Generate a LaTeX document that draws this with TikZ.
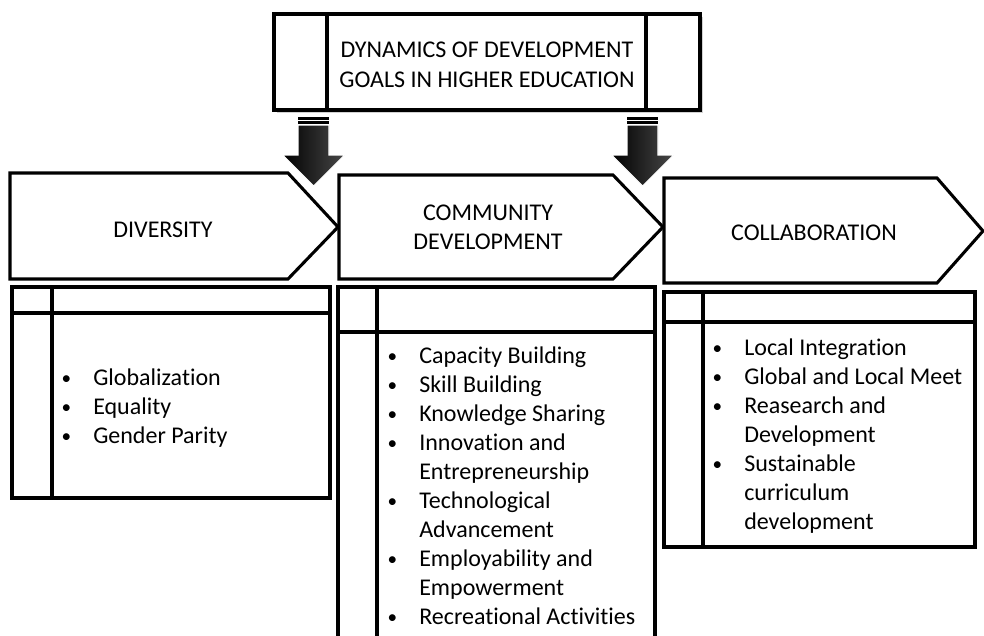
\documentclass[tikz,border=0pt]{standalone}
\usepackage{fontspec}
\setmainfont{Carlito}[Ligatures=NoCommon]
\usetikzlibrary{shadows}

% one unit = one pixel of the 984 x 635 canvas, y grows downwards
\tikzset{
  x=0.75pt, y=-0.75pt,
  outline/.style={draw=black, line width=2.3pt, line join=miter},
  txt/.style={inner sep=0pt, text=black, font=\fontsize{18}{21.75}\selectfont},
  bigarrow/.pic={
    % striped tail
    \fill[black] (-15.5,-69) rectangle (15.5,-66.5);
    \fill[black] (-15.5,-65) rectangle (15.5,-62.5);
    % shaft and head
    \path[left color=black, right color=black!72, draw=white, line width=0.8pt]
      (-15.5,-61) -- (15.5,-61) -- (15.5,-31) -- (31,-31) -- (0,0)
      -- (-31,-31) -- (-15.5,-31) -- cycle;
  }
}
\newcommand{\bul}{\makebox[24.75pt][l]{\hspace{1pt}\raisebox{0.6pt}{\scalebox{0.8}{\textbullet}}}}

\begin{document}
\begin{tikzpicture}
\clip (0,0) rectangle (984,635);
\fill[white] (0,0) rectangle (984,635);

% ---- title box (predefined process) ----
\path[outline, fill=white, drop shadow={shadow xshift=2pt, shadow yshift=-2pt, opacity=0.35}]
  (274,14) rectangle (700,110);
\draw[outline] (274,14) rectangle (700,110);
\draw[outline] (327,14) -- (327,110);
\draw[outline] (646,14) -- (646,110);
\node[txt, anchor=base] (title) at (487,58)
  {\begin{tabular}[t]{@{}c@{}}DYNAMICS OF DEVELOPMENT\\GOALS IN HIGHER EDUCATION\end{tabular}};

% ---- chevrons ----
\draw[outline, fill=white] (10,173) -- (288,173) -- (338,227) -- (288,279) -- (10,279) -- cycle;
\node[txt, anchor=base] (diversity) at (163,237) {DIVERSITY};

\draw[outline, fill=white] (339,175) -- (613,175) -- (663,227) -- (613,279) -- (339,279) -- cycle;
\node[txt, anchor=base] (community) at (488,220)
  {\begin{tabular}[t]{@{}c@{}}COMMUNITY\\DEVELOPMENT\end{tabular}};

\draw[outline, fill=white] (664,178) -- (937,178) -- (983,231) -- (937,283) -- (664,283) -- cycle;
\node[txt, anchor=base] (collab) at (814,240) {COLLABORATION};

% ---- down arrows from the title ----
\pic at (313.5,186) {bigarrow};
\pic at (642.5,186) {bigarrow};

% ---- list boxes (internal storage) ----
\draw[outline] (12,287) rectangle (330,498);
\draw[outline] (52,287) -- (52,498);
\draw[outline] (12,313) -- (330,313);
\node[txt, anchor=base west] (divlist) at (60,385)
  {\begin{tabular}[t]{@{}l@{}l@{}}
   \bul & Globalization\\
   \bul & Equality\\
   \bul & Gender Parity
   \end{tabular}};

\draw[outline] (338,287) rectangle (655,660);
\draw[outline] (377,287) -- (377,660);
\draw[outline] (338,332) -- (655,332);
\node[txt, anchor=base west] (comlist) at (386,363)
  {\begin{tabular}[t]{@{}l@{}l@{}}
   \bul & Capacity Building\\
   \bul & Skill Building\\
   \bul & Knowledge Sharing\\
   \bul & Innovation and\\
        & Entrepreneurship\\
   \bul & Technological\\
        & Advancement\\
   \bul & Employability and\\
        & Empowerment\\
   \bul & Recreational Activities
   \end{tabular}};

\draw[outline] (664,292) rectangle (975,547);
\draw[outline] (703,292) -- (703,547);
\draw[outline] (664,322) -- (975,322);
\node[txt, anchor=base west] (collist) at (711,355)
  {\begin{tabular}[t]{@{}l@{}l@{}}
   \bul & Local Integration\\
   \bul & Global and Local Meet\\
   \bul & Reasearch and\\
        & Development\\
   \bul & Sustainable\\
        & curriculum\\
        & development
   \end{tabular}};
\end{tikzpicture}
\end{document}
